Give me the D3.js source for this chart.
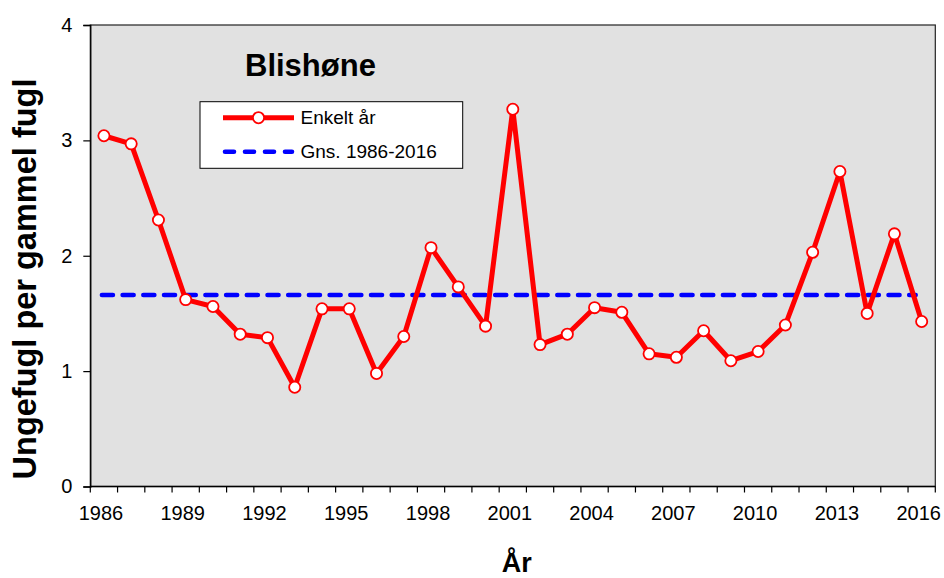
<!DOCTYPE html>
<html><head><meta charset="utf-8">
<script src="https://cdn.jsdelivr.net/npm/d3@7"></script>
<style>
html,body{margin:0;padding:0;background:#fff;}
text{font-family:"Liberation Sans",Arial,Helvetica,sans-serif;fill:#000;}
</style></head>
<body><svg id="c" width="944" height="578"></svg>
<script>
const years = d3.range(1986, 2017);
const values = [3.04, 2.97, 2.31, 1.62, 1.56, 1.32, 1.29, 0.86, 1.54, 1.54, 0.98, 1.30, 2.07, 1.73, 1.39, 3.27, 1.23, 1.32, 1.55, 1.51, 1.15, 1.12, 1.35, 1.09, 1.17, 1.40, 2.03, 2.73, 1.50, 2.19, 1.43];
const averageValue = [1.66];
const yTicks = [0, 1, 2, 3, 4];
const xTickLabels = [1986, 1989, 1992, 1995, 1998, 2001, 2004, 2007, 2010, 2013, 2016];
const title = "Blishøne";
const seriesNames = ["Enkelt år", "Gns. 1986-2016"];

const svg = d3.select("#c");
const L = 90.3, R = 935.3, T = 25, B = 486.5;

const x = d3.scaleBand().domain(years).range([L, R]).padding(0);
const cx = d => x(d) + x.bandwidth() / 2;
const y = d3.scaleLinear().domain([0, 4]).range([B, T]);

// plot area
svg.append("rect").attr("x", L).attr("y", T).attr("width", R - L).attr("height", B - T)
  .attr("fill", "#e1e1e1").attr("stroke", "#222").attr("stroke-width", 1.2);

// y axis
const yAxis = svg.append("g").attr("transform", `translate(${L},0)`)
  .call(d3.axisLeft(y).tickValues(yTicks).tickSize(7).tickPadding(11).tickFormat(d3.format("d")));
yAxis.select(".domain").attr("stroke", "#000").attr("stroke-width", 1.3);
yAxis.selectAll(".tick line").attr("stroke", "#000").attr("stroke-width", 1.2);
yAxis.selectAll("text").attr("font-size", 20).attr("font-family", "Liberation Sans, Arial, sans-serif").attr("fill", "#000");

// x axis: tick marks at category boundaries
const xAxisG = svg.append("g").attr("transform", `translate(0,${B})`);
xAxisG.append("line").attr("x1", L).attr("x2", R).attr("stroke", "#000").attr("stroke-width", 1.3);
const boundaries = years.map(d => x(d)).concat([R]);
xAxisG.selectAll("line.tk").data(boundaries).enter().append("line").attr("class", "tk")
  .attr("x1", d => d).attr("x2", d => d).attr("y1", 0).attr("y2", 6)
  .attr("stroke", "#000").attr("stroke-width", 1.2);
xAxisG.selectAll("text").data(xTickLabels).enter().append("text")
  .attr("x", d => cx(d) - 3).attr("y", 33).attr("text-anchor", "middle")
  .attr("font-size", 20).text(d => d);

// average line
svg.append("line")
  .attr("x1", cx(years[0]) - 2).attr("x2", cx(years[years.length - 1]) - 6)
  .attr("y1", y(averageValue[0])).attr("y2", y(averageValue[0]))
  .attr("stroke", "#0000ff").attr("stroke-width", 4.6)
  .attr("stroke-dasharray", "11,9.7").attr("stroke-linecap", "round");

// series line
const line = d3.line().x((d, i) => cx(years[i])).y(d => y(d));
svg.append("path").datum(values).attr("d", line)
  .attr("fill", "none").attr("stroke", "#ff0000").attr("stroke-width", 5).attr("stroke-linejoin", "round");
svg.selectAll("circle.pt").data(values).enter().append("circle").attr("class", "pt")
  .attr("cx", (d, i) => cx(years[i])).attr("cy", d => y(d)).attr("r", 5.6)
  .attr("fill", "#fff").attr("stroke", "#ff0000").attr("stroke-width", 1.8);

// title
svg.append("text").attr("x", 245).attr("y", 75.5).attr("font-size", 31).attr("font-weight", "bold").text(title);

// legend
const lg = svg.append("g");
lg.append("rect").attr("x", 200).attr("y", 101.7).attr("width", 262.7).attr("height", 66.6)
  .attr("fill", "#fff").attr("stroke", "#000").attr("stroke-width", 1);
lg.append("line").attr("x1", 223).attr("x2", 294).attr("y1", 117.7).attr("y2", 117.7)
  .attr("stroke", "#ff0000").attr("stroke-width", 5);
lg.append("circle").attr("cx", 258.5).attr("cy", 117.7).attr("r", 5.6)
  .attr("fill", "#fff").attr("stroke", "#ff0000").attr("stroke-width", 1.8);
lg.append("line").attr("x1", 225).attr("x2", 292).attr("y1", 151.7).attr("y2", 151.7)
  .attr("stroke", "#0000ff").attr("stroke-width", 4.6).attr("stroke-dasharray", "9,11")
  .attr("stroke-linecap", "round");
lg.append("text").attr("x", 300.5).attr("y", 124).attr("font-size", 19).text(seriesNames[0]);
lg.append("text").attr("x", 300.5).attr("y", 158).attr("font-size", 19).text(seriesNames[1]);

// axis titles
svg.append("text").attr("x", 516.7).attr("y", 571.5).attr("text-anchor", "middle")
  .attr("font-size", 27).attr("font-weight", "bold").text("År");
svg.append("text").attr("transform", "translate(36,279) rotate(-90)").attr("text-anchor", "middle")
  .attr("font-size", 32.5).attr("font-weight", "bold").text("Ungefugl per gammel fugl");
</script></body></html>
